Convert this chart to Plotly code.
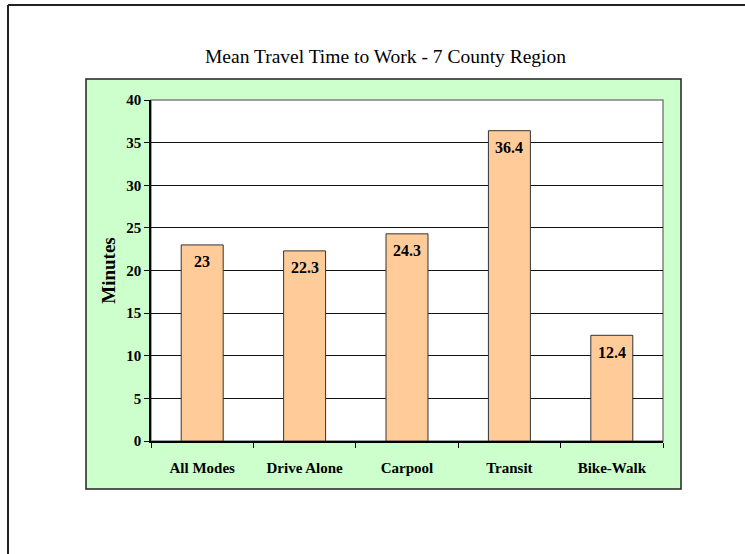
import plotly.graph_objects as go

# Mean commute times by travel mode
modes = ["All Modes", "Drive Alone", "Carpool", "Transit", "Bike-Walk"]
minutes = [23, 22.3, 24.3, 36.4, 12.4]
y_ticks = [0, 5, 10, 15, 20, 25, 30, 35, 40]

W, H = 745, 554
L, R, T, B = 151, 82, 100, 113
PW, PH = W - L - R, H - T - B


def px(x):
    return (x - L) / PW


def py(y):
    return 1 - (y - T) / PH


SERIF = "Liberation Serif, Times New Roman, serif"

fig = go.Figure()
fig.add_trace(go.Bar(
    x=modes, y=minutes,
    marker=dict(color="#FFCC99", line=dict(color="#333333", width=1)),
    hoverinfo="x+y",
))

# value labels just under the top of each bar
for m, v in zip(modes, minutes):
    fig.add_annotation(x=m, y=v, text=f"<b>{v:g}</b>", showarrow=False,
                       yshift=-17, font=dict(family=SERIF, size=16, color="black"))

shapes = [
    # outer frame (top and left edges)
    dict(type="line", xref="paper", yref="paper", x0=px(8), x1=px(746), y0=py(5), y1=py(5),
         line=dict(color="#222222", width=2)),
    dict(type="line", xref="paper", yref="paper", x0=px(8), x1=px(8), y0=py(5), y1=py(556),
         line=dict(color="#222222", width=2)),
    # chart area
    dict(type="rect", xref="paper", yref="paper", x0=px(86), x1=px(681), y0=py(489), y1=py(79),
         fillcolor="#CCFFCC", line=dict(color="#222222", width=1.5), layer="below"),
    # plot area
    dict(type="rect", xref="paper", yref="paper", x0=0, x1=1, y0=0, y1=1,
         fillcolor="white", line=dict(color="#808080", width=1.5), layer="below"),
]

fig.add_annotation(xref="paper", yref="paper", x=px(385), y=py(56),
                   text="Mean Travel Time to Work - 7 County Region", showarrow=False,
                   xanchor="center", yanchor="middle",
                   font=dict(family=SERIF, size=19.5, color="black"))

fig.update_layout(
    width=W, height=H,
    margin=dict(l=L, r=R, t=T, b=B, pad=0),
    paper_bgcolor="white", plot_bgcolor="rgba(0,0,0,0)",
    showlegend=False, bargap=0.59,
    shapes=shapes,
    font=dict(family=SERIF, color="black"),
    xaxis=dict(
        type="category", tickson="boundaries", ticks="outside", ticklen=5,
        tickcolor="black", showline=True, linecolor="black", linewidth=1.5,
        showgrid=False, ticklabelstandoff=12,
        tickvals=modes, ticktext=[f"<b>{m}</b>" for m in modes],
        tickfont=dict(family=SERIF, size=15, color="black"),
    ),
    yaxis=dict(
        range=[0, 40], tickvals=y_ticks, ticktext=[f"<b>{t}</b>" for t in y_ticks],
        ticks="outside", ticklen=5,
        tickcolor="black", showline=True, linecolor="black", linewidth=1.5,
        showgrid=True, gridcolor="#111111", gridwidth=1, zeroline=False,
        tickfont=dict(family=SERIF, size=15, color="black"),
        title=dict(text="<b>Minutes</b>", standoff=6,
                   font=dict(family=SERIF, size=19, color="black")),
    ),
)

fig.write_html("out.html")
